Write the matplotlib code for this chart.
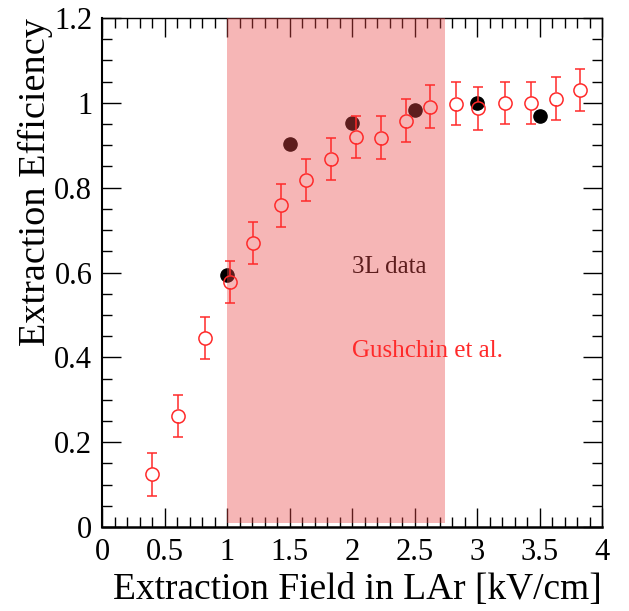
import numpy as np
import matplotlib
matplotlib.use('Agg')
import matplotlib.pyplot as plt
from matplotlib.ticker import MultipleLocator, FuncFormatter

plt.rcParams['font.family'] = ['Liberation Serif', 'DejaVu Serif']

# 3L data (filled black)
field_3l = [1.0, 1.5, 2.0, 2.5, 3.0, 3.5]
eff_3l = [0.593, 0.904, 0.953, 0.984, 1.000, 0.970]

# Gushchin et al. (open red, with errors)
field_gu = [0.40, 0.61, 0.82, 1.02, 1.21, 1.43, 1.63, 1.83, 2.03, 2.23,
            2.43, 2.62, 2.83, 3.01, 3.22, 3.43, 3.63, 3.82]
eff_gu = [0.124, 0.262, 0.445, 0.578, 0.669, 0.758, 0.818, 0.868, 0.920, 0.918,
          0.958, 0.991, 0.998, 0.987, 0.999, 0.999, 1.010, 1.030]
err_gu = [0.05] * len(field_gu)

# operating range band
band_lo, band_hi = 1.0, 2.74

red = '#ff2a2a'

fig = plt.figure(figsize=(6.29, 6.11), dpi=100)
ax = fig.add_axes([0.1622, 0.1375, 0.795, 0.833])
ax.set_xlim(0, 4)
ax.set_ylim(0, 1.2)

ax.plot(field_3l, eff_3l, 'o', color='black', markersize=9.5, zorder=2)
ax.text(2.0, 0.60, '3L data', color='black', fontsize=18, zorder=2)

ax.axvspan(band_lo, band_hi, ymin=0.01 / 1.2, ymax=1, color=(0.914, 0.29, 0.29),
           alpha=0.4, lw=0, zorder=3)

# error bars stop at the marker edge
ms = 9.5
fig.canvas.draw()
h_px = ax.get_window_extent().height
gap = (ms / 72 * fig.dpi / 2) * 1.2 / h_px
x = np.array(field_gu)
y = np.array(eff_gu)
e = np.array(err_gu)
ax.vlines(x, y + gap, y + e, color=red, lw=1.1, zorder=4)
ax.vlines(x, y - e, y - gap, color=red, lw=1.1, zorder=4)
ax.plot(x, y + e, '_', color=red, markersize=7, mew=1.1, zorder=4)
ax.plot(x, y - e, '_', color=red, markersize=7, mew=1.1, zorder=4)
ax.plot(x, y, 'o', mfc='none', mec=red, mew=1.1, markersize=ms, zorder=5)
ax.text(2.0, 0.40, 'Gushchin et al.', color=red, fontsize=18, zorder=5)

ax.xaxis.set_major_locator(MultipleLocator(0.5))
ax.xaxis.set_minor_locator(MultipleLocator(0.1))
ax.yaxis.set_major_locator(MultipleLocator(0.2))
ax.yaxis.set_minor_locator(MultipleLocator(0.05))
fmt = FuncFormatter(lambda v, p: '%g' % round(v, 2))
ax.xaxis.set_major_formatter(fmt)
ax.yaxis.set_major_formatter(fmt)
ax.tick_params(which='both', direction='in', top=True, right=True, labelsize=22)
ax.tick_params(which='major', length=14, width=1.0)
ax.tick_params(which='minor', length=7, width=1.0)
ax.tick_params(axis='x', pad=8)
ax.tick_params(axis='y', pad=7)
ax.spines['left'].set_linewidth(1.5)
ax.spines['bottom'].set_linewidth(1.8)
ax.spines['top'].set_linewidth(1.0)
ax.spines['right'].set_linewidth(1.0)

ax.set_xlabel('Extraction Field in LAr [kV/cm]', fontsize=27, loc='right')
ax.set_ylabel('Extraction Efficiency', fontsize=27.5, loc='top')
ax.xaxis.set_label_coords(1.0, -0.09)
ax.yaxis.set_label_coords(-0.098, 1.0)

fig.savefig('out.png', dpi=100)
